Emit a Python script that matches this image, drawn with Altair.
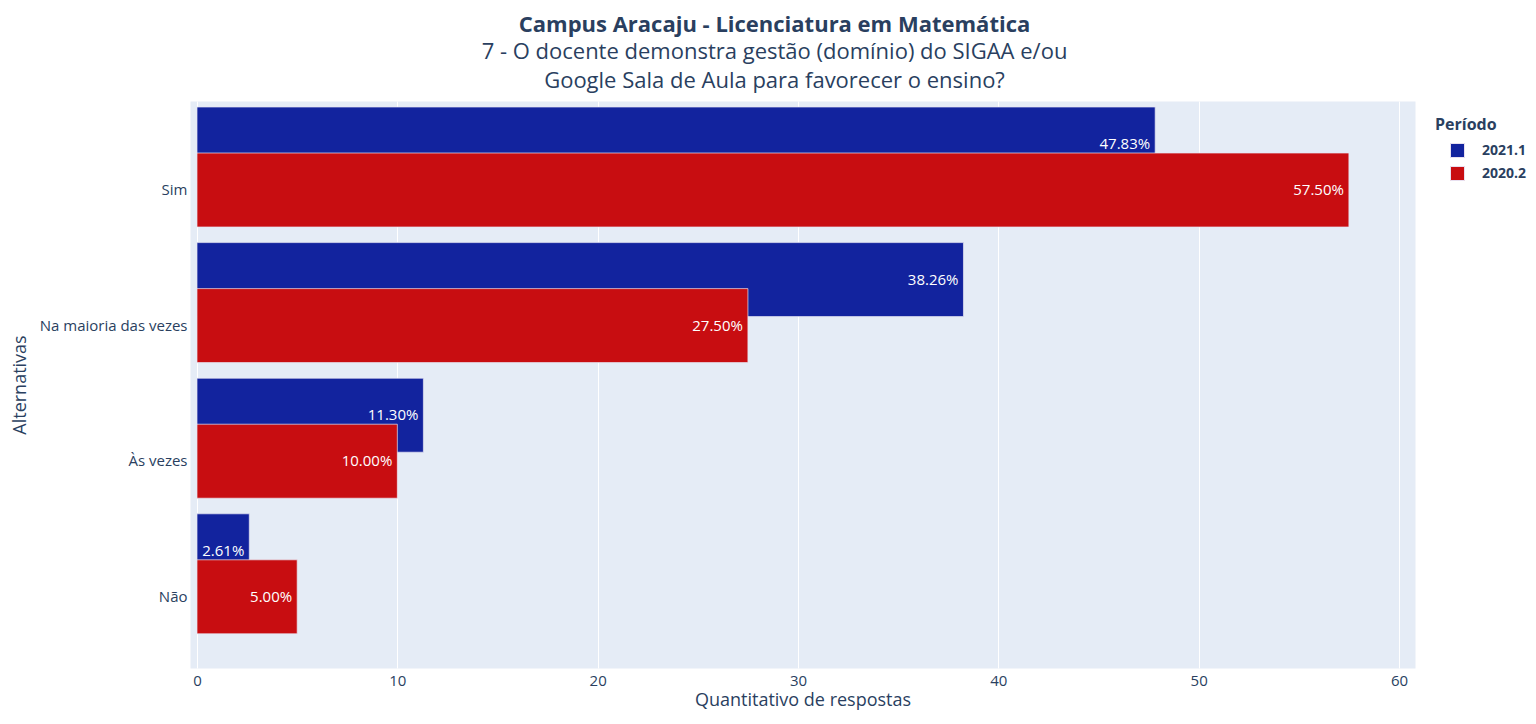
import altair as alt
import pandas as pd

alternativas = ["Sim", "Na maioria das vezes", "Às vezes", "Não"]
periodos = ["2021.1", "2020.2"]
valores_2021_1 = [47.83, 38.26, 11.30, 2.61]
valores_2020_2 = [57.50, 27.50, 10.00, 5.00]
cores = ["#12239E", "#C80D11"]

rows = []
for p, vals in zip(periodos, [valores_2021_1, valores_2020_2]):
    for a, v in zip(alternativas, vals):
        rows.append({"Alternativa": a, "Período": p, "Valor": v, "Rotulo": f"{v:.2f}%"})
df = pd.DataFrame(rows)

FONT = "Open Sans"
TXT = "#2a3f5f"

y_enc = alt.Y(
    "Alternativa:N",
    sort=alternativas,
    scale=alt.Scale(domain=alternativas, paddingInner=0, paddingOuter=0.0907, align=0.862),
    axis=alt.Axis(title="Alternativas", domain=False, ticks=False, grid=False,
                  labelFontSize=15, labelColor=TXT, labelPadding=3,
                  titleFontSize=18, titleFontWeight="normal", titleColor=TXT,
                  titlePadding=10, labelFont=FONT, titleFont=FONT),
)
x_enc = alt.X(
    "Valor:Q",
    scale=alt.Scale(domain=[-0.35, 60.8], nice=False, zero=False),
    axis=alt.Axis(title="Quantitativo de respostas", values=[0, 10, 20, 30, 40, 50, 60],
                  domain=False, ticks=False, grid=True, gridColor="white", gridWidth=1,
                  labelFontSize=15, labelColor=TXT, labelPadding=5,
                  titleFontSize=18, titleFontWeight="normal", titleColor=TXT,
                  titlePadding=3, labelFont=FONT, titleFont=FONT),
)
color_enc = alt.Color(
    "Período:N",
    scale=alt.Scale(domain=periodos, range=cores),
    legend=alt.Legend(title="Período", orient="none", legendX=1245, legendY=16,
                      titleFontSize=16, titleFontWeight="bold", titleColor=TXT, titleFont=FONT,
                      labelFontSize=14, labelFontWeight="bold", labelColor=TXT, labelFont=FONT,
                      symbolType="square", symbolSize=196, symbolStrokeWidth=1,
                      symbolStrokeColor="#e8e0f0", symbolOpacity=1,
                      symbolOffset=15, labelOffset=17, rowPadding=4, titlePadding=10),
)

base = alt.Chart(df)

bar_top = base.transform_filter(alt.datum["Período"] == "2021.1").mark_bar(
    height=74, yOffset=-46, stroke="#e8e6f4", strokeWidth=0.7, opacity=1
).encode(x=x_enc, y=y_enc, color=color_enc)
txt_top = base.transform_filter(alt.datum["Período"] == "2021.1").mark_text(
    align="right", baseline="middle", dx=-5, yOffset=-46, color="white", fontSize=15, font=FONT
).encode(x=x_enc, y=y_enc, text="Rotulo:N")
bar_bot = base.transform_filter(alt.datum["Período"] == "2020.2").mark_bar(
    height=74, stroke="#e8e6f4", strokeWidth=0.7, opacity=1
).encode(x=x_enc, y=y_enc, color=color_enc)
txt_bot = base.transform_filter(alt.datum["Período"] == "2020.2").mark_text(
    align="right", baseline="middle", dx=-5, color="white", fontSize=15, font=FONT
).encode(x=x_enc, y=y_enc, text="Rotulo:N")

chart = alt.layer(bar_top, txt_top, bar_bot, txt_bot).properties(
    width=1225,
    height=567,
    autosize=alt.AutoSizeParams(type="none"),
    padding={"left": 182, "top": 93, "right": 113, "bottom": 43},
    title=alt.Title(
        text="Campus Aracaju - Licenciatura em Matemática",
        subtitle=["7 - O docente demonstra gestão (domínio) do SIGAA e/ou",
                  "Google Sala de Aula para favorecer o ensino?"],
        anchor="middle", dx=-28, offset=8,
        font=FONT, fontSize=22, fontWeight="bold", color=TXT,
        subtitleFont=FONT, subtitleFontSize=22, subtitleColor=TXT,
        subtitleLineHeight=29, subtitlePadding=5,
    ),
).configure(background="white").configure_view(fill="#E5ECF6", stroke="transparent")

chart.save("out.html", embed_options={"renderer": "svg", "actions": False})
